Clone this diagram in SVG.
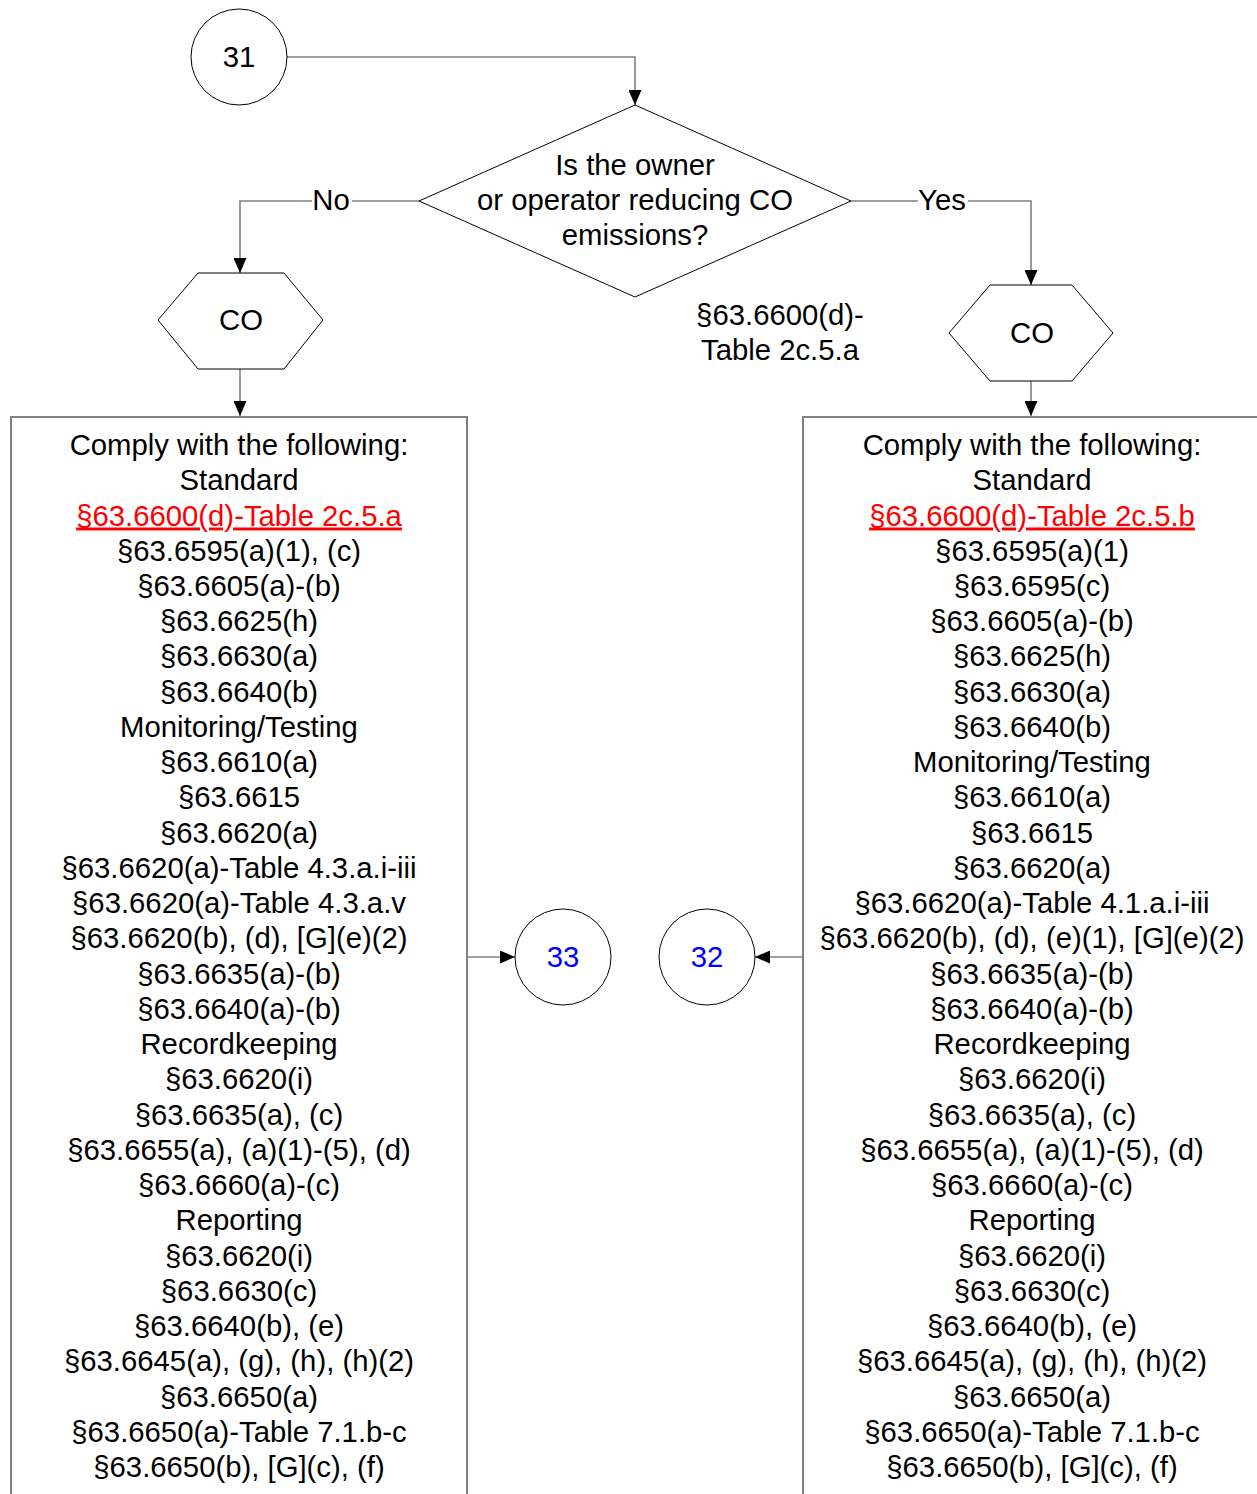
<svg xmlns="http://www.w3.org/2000/svg" width="1257" height="1494" viewBox="0 0 1257 1494">
<style>
text{font-family:"Liberation Sans",Arial,sans-serif;font-size:29.3px;fill:#000;text-anchor:middle}
.shape{fill:#fff;stroke:#000;stroke-width:1}
.box{fill:#fff;stroke:#808080;stroke-width:2}
.conn{fill:none;stroke:#808080;stroke-width:1.6}
.lbl{fill:#fff;stroke:none}
.blue{fill:#0000ff}
.red{fill:#ff0000;text-decoration:underline}
</style>
<defs>
<marker id="arr" markerWidth="15" markerHeight="13" viewBox="0 0 15 13" refX="15" refY="6.5" orient="auto" markerUnits="userSpaceOnUse">
<path d="M0,0 L15,6.5 L0,13 Z" fill="#000"/>
</marker>
</defs>
<rect width="1257" height="1494" fill="#fff"/>
<g id="connectors">
<path class="conn" d="M287,57 H635 V105" marker-end="url(#arr)"/>
<path class="conn" d="M419,201 H240 V273" marker-end="url(#arr)"/>
<path class="conn" d="M851,201 H1031 V285" marker-end="url(#arr)"/>
<path class="conn" d="M240,369 V416" marker-end="url(#arr)"/>
<path class="conn" d="M1031,381 V416" marker-end="url(#arr)"/>
<path class="conn" d="M467,957 H515" marker-end="url(#arr)"/>
<path class="conn" d="M803,957 H755" marker-end="url(#arr)"/>
<rect class="lbl" x="312" y="186" width="40" height="30"/>
<text x="331" y="210">No</text>
<rect class="lbl" x="918" y="186" width="50" height="30"/>
<text x="942" y="210">Yes</text>
</g>
<g id="n31">
<circle class="shape" cx="239" cy="57" r="48"/>
<text x="239" y="67">31</text>
</g>
<g id="decision">
<path class="shape" d="M635,105 L851,201 L635,297 L419,201 Z"/>
<text x="635" y="175">Is the owner</text>
<text x="635" y="210">or operator reducing CO</text>
<text x="635" y="245">emissions?</text>
</g>
<g id="ref-label">
<text x="780" y="325">§63.6600(d)-</text>
<text x="780" y="360">Table 2c.5.a</text>
</g>
<g id="hex-left">
<path class="shape" d="M158,320 L198,273 L284,273 L323,320 L284,369 L198,369 Z"/>
<text x="241" y="330">CO</text>
</g>
<g id="hex-right">
<path class="shape" d="M949,333 L990,285 L1072,285 L1113,333 L1072,381 L990,381 Z"/>
<text x="1032" y="343">CO</text>
</g>
<g id="n33">
<circle class="shape" cx="563" cy="957" r="48"/>
<text class="blue" x="563" y="967">33</text>
</g>
<g id="n32">
<circle class="shape" cx="707" cy="957" r="48"/>
<text class="blue" x="707" y="967">32</text>
</g>
<g id="box-left">
<rect class="box" x="11" y="417" width="456" height="1100"/>
<text x="239" y="455">Comply with the following:</text>
<text x="239" y="490.2">Standard</text>
<text class="red" x="239" y="525.5">§63.6600(d)-Table 2c.5.a</text>
<text x="239" y="560.7">§63.6595(a)(1), (c)</text>
<text x="239" y="596">§63.6605(a)-(b)</text>
<text x="239" y="631.2">§63.6625(h)</text>
<text x="239" y="666.4">§63.6630(a)</text>
<text x="239" y="701.7">§63.6640(b)</text>
<text x="239" y="736.9">Monitoring/Testing</text>
<text x="239" y="772.2">§63.6610(a)</text>
<text x="239" y="807.4">§63.6615</text>
<text x="239" y="842.6">§63.6620(a)</text>
<text x="239" y="877.9">§63.6620(a)-Table 4.3.a.i-iii</text>
<text x="239" y="913.1">§63.6620(a)-Table 4.3.a.v</text>
<text x="239" y="948.4">§63.6620(b), (d), [G](e)(2)</text>
<text x="239" y="983.6">§63.6635(a)-(b)</text>
<text x="239" y="1018.8">§63.6640(a)-(b)</text>
<text x="239" y="1054.1">Recordkeeping</text>
<text x="239" y="1089.3">§63.6620(i)</text>
<text x="239" y="1124.6">§63.6635(a), (c)</text>
<text x="239" y="1159.8">§63.6655(a), (a)(1)-(5), (d)</text>
<text x="239" y="1195">§63.6660(a)-(c)</text>
<text x="239" y="1230.3">Reporting</text>
<text x="239" y="1265.5">§63.6620(i)</text>
<text x="239" y="1300.8">§63.6630(c)</text>
<text x="239" y="1336">§63.6640(b), (e)</text>
<text x="239" y="1371.2">§63.6645(a), (g), (h), (h)(2)</text>
<text x="239" y="1406.5">§63.6650(a)</text>
<text x="239" y="1441.7">§63.6650(a)-Table 7.1.b-c</text>
<text x="239" y="1477">§63.6650(b), [G](c), (f)</text>
</g>
<g id="box-right">
<rect class="box" x="803" y="417" width="458" height="1100"/>
<text x="1032" y="455">Comply with the following:</text>
<text x="1032" y="490.2">Standard</text>
<text class="red" x="1032" y="525.5">§63.6600(d)-Table 2c.5.b</text>
<text x="1032" y="560.7">§63.6595(a)(1)</text>
<text x="1032" y="596">§63.6595(c)</text>
<text x="1032" y="631.2">§63.6605(a)-(b)</text>
<text x="1032" y="666.4">§63.6625(h)</text>
<text x="1032" y="701.7">§63.6630(a)</text>
<text x="1032" y="736.9">§63.6640(b)</text>
<text x="1032" y="772.2">Monitoring/Testing</text>
<text x="1032" y="807.4">§63.6610(a)</text>
<text x="1032" y="842.6">§63.6615</text>
<text x="1032" y="877.9">§63.6620(a)</text>
<text x="1032" y="913.1">§63.6620(a)-Table 4.1.a.i-iii</text>
<text x="1032" y="948.4">§63.6620(b), (d), (e)(1), [G](e)(2)</text>
<text x="1032" y="983.6">§63.6635(a)-(b)</text>
<text x="1032" y="1018.8">§63.6640(a)-(b)</text>
<text x="1032" y="1054.1">Recordkeeping</text>
<text x="1032" y="1089.3">§63.6620(i)</text>
<text x="1032" y="1124.6">§63.6635(a), (c)</text>
<text x="1032" y="1159.8">§63.6655(a), (a)(1)-(5), (d)</text>
<text x="1032" y="1195">§63.6660(a)-(c)</text>
<text x="1032" y="1230.3">Reporting</text>
<text x="1032" y="1265.5">§63.6620(i)</text>
<text x="1032" y="1300.8">§63.6630(c)</text>
<text x="1032" y="1336">§63.6640(b), (e)</text>
<text x="1032" y="1371.2">§63.6645(a), (g), (h), (h)(2)</text>
<text x="1032" y="1406.5">§63.6650(a)</text>
<text x="1032" y="1441.7">§63.6650(a)-Table 7.1.b-c</text>
<text x="1032" y="1477">§63.6650(b), [G](c), (f)</text>
</g>
</svg>
